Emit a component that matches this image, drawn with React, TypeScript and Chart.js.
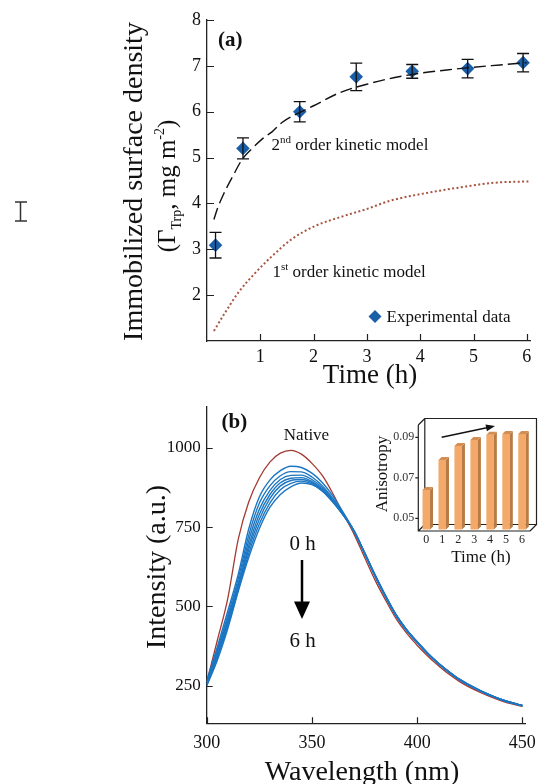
import React, { useEffect, useRef } from 'react';
import { Chart, registerables } from 'chart.js';
Chart.register(...registerables);

const SERIF = '"Liberation Serif", "Times New Roman", serif';
Chart.defaults.font.family = SERIF;
Chart.defaults.color = '#111';

// ---------- Panel (a) data ----------
const expTime = [0.16, 0.675, 1.74, 2.8, 3.85, 4.89, 5.93];
const expDensity = [3.09, 5.2, 6.0, 6.76, 6.88, 6.94, 7.07];
const expError = [0.28, 0.23, 0.22, 0.3, 0.15, 0.2, 0.2];

const secondOrderTime = [0.13, 0.2, 0.31, 0.5, 0.66, 0.85, 1.06, 1.22, 1.4, 1.75, 2.0, 2.5, 3.0, 3.5, 4.0, 4.5, 5.0, 5.5, 6.0];
const secondOrderDensity = [3.65, 3.9, 4.2, 4.63, 4.96, 5.2, 5.43, 5.56, 5.76, 5.99, 6.13, 6.42, 6.6, 6.74, 6.84, 6.91, 6.97, 7.02, 7.07];

const firstOrderTime = [0.13, 0.34, 0.59, 0.91, 1.22, 1.59, 2.03, 2.47, 3.0, 3.44, 4.13, 4.75, 5.38, 6.03];
const firstOrderDensity = [1.22, 1.62, 2.06, 2.49, 2.85, 3.22, 3.51, 3.69, 3.88, 4.06, 4.23, 4.35, 4.45, 4.48];

const timeTicks = [1, 2, 3, 4, 5, 6];
const densityTicks = [2, 3, 4, 5, 6, 7, 8];

// ---------- Panel (b) data ----------
const wavelength = [300, 305, 310, 315, 320, 325, 330, 335, 340, 345, 350, 355, 360, 365, 370, 375, 380, 385, 390, 395, 400, 405, 410, 415, 420, 425, 430, 435, 440, 445, 450];
const nativeIntensity = [262, 392, 525, 712, 830, 905, 955, 983, 992, 980, 951, 912, 855, 790, 728, 655, 583, 520, 462, 416, 378, 344, 314, 287, 264, 245, 229, 215, 203, 193, 185];
const intensity0h = [265, 372, 485, 602, 745, 845, 898, 928, 942, 938, 920, 890, 848, 795, 738, 668, 595, 530, 470, 424, 386, 351, 320, 293, 269, 250, 233, 219, 206, 196, 187];
const intensity1h = [262, 362, 472, 588, 725, 825, 880, 912, 925, 924, 908, 880, 840, 792, 738, 668, 596, 531, 471, 425, 387, 352, 321, 294, 270, 251, 234, 219, 206, 196, 187];
const intensity2h = [260, 356, 462, 575, 708, 806, 865, 900, 913, 914, 900, 874, 836, 790, 737, 668, 597, 532, 472, 425, 387, 352, 321, 294, 270, 251, 234, 220, 207, 196, 187];
const intensity3h = [257, 350, 454, 566, 692, 790, 852, 890, 904, 906, 894, 869, 833, 789, 737, 669, 598, 532, 473, 426, 388, 353, 322, 294, 270, 251, 234, 220, 207, 197, 188];
const intensity4h = [255, 344, 446, 560, 680, 775, 840, 880, 897, 900, 890, 866, 831, 788, 738, 669, 599, 533, 473, 426, 388, 353, 322, 295, 271, 252, 235, 220, 207, 197, 188];
const intensity5h = [252, 337, 438, 553, 667, 760, 826, 868, 888, 895, 886, 863, 828, 787, 738, 670, 600, 534, 474, 427, 389, 353, 322, 295, 271, 252, 235, 220, 207, 197, 188];
const intensity6h = [250, 330, 430, 548, 655, 745, 812, 853, 877, 889, 884, 864, 830, 786, 738, 670, 600, 534, 474, 427, 389, 353, 322, 295, 271, 252, 235, 220, 207, 197, 188];
const blueSeries = [intensity0h, intensity1h, intensity2h, intensity3h, intensity4h, intensity5h, intensity6h];
const wavelengthTicks = [300, 350, 400, 450];
const intensityTicks = [250, 500, 750, 1000];

// ---------- Inset data ----------
const insetHours = ['0', '1', '2', '3', '4', '5', '6'];
const anisotropy = [0.064, 0.0788, 0.0857, 0.0887, 0.0912, 0.0916, 0.0916];
const anisotropyTicks = [0.05, 0.07, 0.09];

const BLUE_PT = '#1b5ea8';
const BLUE_LINE = '#1c76c2';
const NATIVE = '#a43a31';
const DOTTED = '#a85440';

const xy = (xs: number[], ys: number[]) => xs.map((x, i) => ({ x, y: ys[i] }));

type Seg = { t: string; s: number; dy?: number; b?: boolean };
function drawRich(ctx: CanvasRenderingContext2D, segs: Seg[], x: number, y: number, align: 'left' | 'center') {
  ctx.textAlign = 'left';
  ctx.textBaseline = 'alphabetic';
  const widths = segs.map((g) => {
    ctx.font = `${g.b ? 'bold ' : ''}${g.s}px ${SERIF}`;
    return ctx.measureText(g.t).width;
  });
  const total = widths.reduce((a, b) => a + b, 0);
  let cx = align === 'center' ? x - total / 2 : x;
  segs.forEach((g, i) => {
    ctx.font = `${g.b ? 'bold ' : ''}${g.s}px ${SERIF}`;
    ctx.fillText(g.t, cx, y + (g.dy || 0));
    cx += widths[i];
  });
}

function inwardTicks(chart: any, xVals: number[], yVals: number[], len: number) {
  const { ctx, chartArea, scales } = chart;
  ctx.save();
  ctx.strokeStyle = '#222';
  ctx.lineWidth = 1.2;
  ctx.beginPath();
  xVals.forEach((v) => {
    const x = Math.round(scales.x.getPixelForValue(v)) + 0.5;
    ctx.moveTo(x, chartArea.bottom);
    ctx.lineTo(x, chartArea.bottom - len);
  });
  yVals.forEach((v) => {
    const y = Math.round(scales.y.getPixelForValue(v)) + 0.5;
    ctx.moveTo(chartArea.left, y);
    ctx.lineTo(chartArea.left + len, y);
  });
  ctx.stroke();
  ctx.restore();
}

function PanelA() {
  const ref = useRef<HTMLCanvasElement>(null);
  useEffect(() => {
    const plugin = {
      id: 'panelA',
      afterDatasetsDraw(chart: any) {
        const { ctx, scales } = chart;
        ctx.save();
        ctx.strokeStyle = '#111';
        ctx.lineWidth = 1.3;
        ctx.beginPath();
        expTime.forEach((t, i) => {
          const x = scales.x.getPixelForValue(t);
          const y1 = scales.y.getPixelForValue(expDensity[i] + expError[i]);
          const y2 = scales.y.getPixelForValue(expDensity[i] - expError[i]);
          ctx.moveTo(x, y1); ctx.lineTo(x, y2);
          ctx.moveTo(x - 6, y1); ctx.lineTo(x + 6, y1);
          ctx.moveTo(x - 6, y2); ctx.lineTo(x + 6, y2);
        });
        ctx.stroke();
        ctx.restore();
      },
      afterDraw(chart: any) {
        const { ctx } = chart;
        inwardTicks(chart, timeTicks, densityTicks, 7);
        ctx.save();
        ctx.fillStyle = '#111';
        // y title
        ctx.save();
        ctx.translate(141.5, 181.5);
        ctx.rotate(-Math.PI / 2);
        drawRich(ctx, [{ t: 'Immobilized surface density', s: 28 }], 0, 0, 'center');
        ctx.restore();
        ctx.save();
        ctx.translate(175, 186);
        ctx.rotate(-Math.PI / 2);
        drawRich(ctx, [
          { t: '(', s: 25 }, { t: 'Γ', s: 25 }, { t: 'Trp', s: 14, dy: 6 },
          { t: ', mg m', s: 25 }, { t: '-2', s: 14, dy: -11 }, { t: ')', s: 25 },
        ], 0, 0, 'center');
        ctx.restore();
        // x title
        drawRich(ctx, [{ t: 'Time (h)', s: 27 }], 370, 383, 'center');
        // panel label
        drawRich(ctx, [{ t: '(a)', s: 21, b: true }], 218, 46, 'left');
        // annotations
        drawRich(ctx, [{ t: '2', s: 17 }, { t: 'nd', s: 11, dy: -7 }, { t: ' order kinetic model', s: 17 }], 271.5, 150, 'left');
        drawRich(ctx, [{ t: '1', s: 17 }, { t: 'st', s: 11, dy: -7 }, { t: ' order kinetic model', s: 17 }], 272.5, 277, 'left');
        // legend
        ctx.fillStyle = BLUE_PT;
        ctx.beginPath();
        ctx.moveTo(375, 310); ctx.lineTo(381.5, 316.5); ctx.lineTo(375, 323); ctx.lineTo(368.5, 316.5);
        ctx.closePath(); ctx.fill();
        ctx.fillStyle = '#111';
        drawRich(ctx, [{ t: 'Experimental data', s: 17 }], 386.5, 322, 'left');
        // stray error-bar glyph
        ctx.strokeStyle = '#333';
        ctx.lineWidth = 1.5;
        ctx.beginPath();
        ctx.moveTo(20.5, 202); ctx.lineTo(20.5, 221);
        ctx.moveTo(15, 202); ctx.lineTo(27, 202);
        ctx.moveTo(15, 221); ctx.lineTo(27, 221);
        ctx.stroke();
        ctx.restore();
      },
    };
    const chart = new Chart(ref.current!, {
      type: 'scatter',
      data: {
        datasets: [
          {
            data: xy(secondOrderTime, secondOrderDensity), showLine: true, borderColor: '#111', borderWidth: 1.4,
            borderDash: [12, 5], pointRadius: 0, cubicInterpolationMode: 'monotone',
          },
          {
            data: xy(firstOrderTime, firstOrderDensity), showLine: true, borderColor: DOTTED, borderWidth: 2,
            borderDash: [2, 2.4], pointRadius: 0, cubicInterpolationMode: 'monotone',
          },
          {
            data: xy(expTime, expDensity), showLine: false, pointStyle: 'rectRot', pointRadius: 6.8,
            backgroundColor: BLUE_PT, borderColor: BLUE_PT, borderWidth: 0,
          },
        ] as any,
      },
      options: {
        responsive: false,
        animation: false,
        layout: { padding: { left: 0, right: 15, top: 20, bottom: 0 } },
        plugins: { legend: { display: false }, tooltip: { enabled: false } },
        scales: {
          x: {
            type: 'linear', min: 0, max: 6.06,
            afterBuildTicks: (s: any) => { s.ticks = timeTicks.map((v) => ({ value: v })); },
            afterFit: (s: any) => { s.height = 49; },
            grid: { display: false, drawTicks: false },
            border: { display: true, color: '#222', width: 1.3 },
            ticks: { font: { size: 18 }, color: '#111', padding: 5, maxRotation: 0, callback: (v: any) => String(v) },
          },
          y: {
            type: 'linear', min: 1, max: 8,
            afterBuildTicks: (s: any) => { s.ticks = densityTicks.map((v) => ({ value: v })); },
            afterFit: (s: any) => { s.width = 207; },
            grid: { display: false, drawTicks: false },
            border: { display: true, color: '#222', width: 1.3 },
            ticks: { font: { size: 18 }, color: '#111', padding: 6, callback: (v: any) => String(v) },
          },
        },
      } as any,
      plugins: [plugin],
    });
    return () => chart.destroy();
  }, []);
  return <canvas ref={ref} width={545} height={390} style={{ position: 'absolute', left: 0, top: 0, width: 545, height: 390 }} />;
}

function PanelB() {
  const ref = useRef<HTMLCanvasElement>(null);
  useEffect(() => {
    const plugin = {
      id: 'panelB',
      afterDraw(chart: any) {
        const { ctx } = chart;
        inwardTicks(chart, wavelengthTicks, intensityTicks, 6);
        ctx.save();
        ctx.fillStyle = '#111';
        ctx.save();
        ctx.translate(165, 177);
        ctx.rotate(-Math.PI / 2);
        drawRich(ctx, [{ t: 'Intensity (a.u.)', s: 28 }], 0, 0, 'center');
        ctx.restore();
        drawRich(ctx, [{ t: 'Wavelength (nm)', s: 28 }], 362, 390, 'center');
        drawRich(ctx, [{ t: '(b)', s: 21, b: true }], 221.5, 38, 'left');
        drawRich(ctx, [{ t: 'Native', s: 17 }], 306.5, 50, 'center');
        drawRich(ctx, [{ t: '0 h', s: 21 }], 302.5, 160, 'center');
        drawRich(ctx, [{ t: '6 h', s: 21 }], 302.5, 256.5, 'center');
        // arrow
        ctx.strokeStyle = '#000';
        ctx.lineWidth = 2.5;
        ctx.beginPath();
        ctx.moveTo(302, 170); ctx.lineTo(302, 214);
        ctx.stroke();
        ctx.fillStyle = '#000';
        ctx.beginPath();
        ctx.moveTo(294, 211.5); ctx.lineTo(310, 211.5); ctx.lineTo(302, 229);
        ctx.closePath(); ctx.fill();
        ctx.restore();
      },
    };
    const blueSets = blueSeries.map((s) => ({
      data: xy(wavelength, s), showLine: true, borderColor: BLUE_LINE, borderWidth: 1.4,
      pointRadius: 0, cubicInterpolationMode: 'monotone',
    }));
    const chart = new Chart(ref.current!, {
      type: 'scatter',
      data: {
        datasets: [
          ...blueSets,
          {
            data: xy(wavelength, nativeIntensity), showLine: true, borderColor: NATIVE, borderWidth: 1.3,
            pointRadius: 0, cubicInterpolationMode: 'monotone',
          },
        ] as any,
      },
      options: {
        responsive: false,
        animation: false,
        layout: { padding: { left: 0, right: 14, top: 10, bottom: 0 } },
        plugins: { legend: { display: false }, tooltip: { enabled: false } },
        scales: {
          x: {
            type: 'linear', min: 300, max: 451.5,
            afterBuildTicks: (s: any) => { s.ticks = wavelengthTicks.map((v) => ({ value: v })); },
            afterFit: (s: any) => { s.height = 60.7; },
            grid: { display: false, drawTicks: false },
            border: { display: true, color: '#222', width: 1.3 },
            ticks: { font: { size: 18 }, color: '#111', padding: 9, maxRotation: 0, callback: (v: any) => String(v) },
          },
          y: {
            type: 'linear', min: 132, max: 1131,
            afterBuildTicks: (s: any) => { s.ticks = intensityTicks.map((v) => ({ value: v })); },
            afterFit: (s: any) => { s.width = 206.7; },
            grid: { display: false, drawTicks: false },
            border: { display: true, color: '#222', width: 1.3 },
            ticks: { font: { size: 17 }, color: '#111', padding: 6, callback: (v: any) => String(v) },
          },
        },
      } as any,
      plugins: [plugin],
    });
    return () => chart.destroy();
  }, []);
  return <canvas ref={ref} width={545} height={394} style={{ position: 'absolute', left: 0, top: 390, width: 545, height: 394 }} />;
}

const INSET_MIN = 0.04373;
const INSET_MAX = 0.09607;

function Inset() {
  const ref = useRef<HTMLCanvasElement>(null);
  useEffect(() => {
    const DX = 6.5, DY = -6.5;
    const plugin = {
      id: 'inset3d',
      beforeDatasetsDraw(chart: any) {
        const { ctx, chartArea: ca, scales } = chart;
        ctx.save();
        ctx.strokeStyle = '#222';
        ctx.lineWidth = 1.2;
        ctx.beginPath();
        // back panel
        ctx.rect(ca.left + DX, ca.top + DY, ca.right - ca.left, ca.bottom - ca.top);
        // front left axis, floor and connecting edges
        ctx.moveTo(ca.left, ca.top); ctx.lineTo(ca.left, ca.bottom); ctx.lineTo(ca.right, ca.bottom);
        ctx.moveTo(ca.left, ca.top); ctx.lineTo(ca.left + DX, ca.top + DY);
        ctx.moveTo(ca.left, ca.bottom); ctx.lineTo(ca.left + DX, ca.bottom + DY);
        ctx.moveTo(ca.right, ca.bottom); ctx.lineTo(ca.right + DX, ca.bottom + DY);
        anisotropyTicks.forEach((v) => {
          const y = scales.y.getPixelForValue(v);
          ctx.moveTo(ca.left - 3, y); ctx.lineTo(ca.left, y);
        });
        ctx.stroke();
        ctx.restore();
      },
      afterDatasetsDraw(chart: any) {
        const { ctx } = chart;
        const meta = chart.getDatasetMeta(0);
        const d = 3;
        ctx.save();
        meta.data.forEach((bar: any) => {
          const { x, y, base, width } = bar.getProps(['x', 'y', 'base', 'width'], true);
          const l = x - width / 2, r = x + width / 2;
          ctx.fillStyle = '#b97b45';
          ctx.beginPath();
          ctx.moveTo(r, y); ctx.lineTo(r + d, y - d); ctx.lineTo(r + d, base - d); ctx.lineTo(r, base);
          ctx.closePath(); ctx.fill();
          ctx.fillStyle = '#d48e52';
          ctx.beginPath();
          ctx.moveTo(l, y); ctx.lineTo(l + d, y - d); ctx.lineTo(r + d, y - d); ctx.lineTo(r, y);
          ctx.closePath(); ctx.fill();
        });
        // trend arrow
        ctx.strokeStyle = '#111';
        ctx.fillStyle = '#111';
        ctx.lineWidth = 1.4;
        const x1 = 81.7, y1 = 37.3, x2 = 135, y2 = 26;
        const ang = Math.atan2(y2 - y1, x2 - x1);
        ctx.beginPath();
        ctx.moveTo(x1, y1); ctx.lineTo(x2 - 6 * Math.cos(ang), y2 - 6 * Math.sin(ang));
        ctx.stroke();
        ctx.beginPath();
        ctx.moveTo(x2, y2);
        ctx.lineTo(x2 - 9 * Math.cos(ang) + 3.5 * Math.sin(ang), y2 - 9 * Math.sin(ang) - 3.5 * Math.cos(ang));
        ctx.lineTo(x2 - 9 * Math.cos(ang) - 3.5 * Math.sin(ang), y2 - 9 * Math.sin(ang) + 3.5 * Math.cos(ang));
        ctx.closePath(); ctx.fill();
        // titles
        ctx.fillStyle = '#111';
        drawRich(ctx, [{ t: 'Time (h)', s: 17 }], 121, 161.5, 'center');
        ctx.translate(26.7, 74);
        ctx.rotate(-Math.PI / 2);
        drawRich(ctx, [{ t: 'Anisotropy', s: 17 }], 0, 0, 'center');
        ctx.restore();
      },
    };
    const chart = new Chart(ref.current!, {
      type: 'bar',
      data: {
        labels: insetHours,
        datasets: [{
          data: anisotropy, base: INSET_MIN + 0.0008, backgroundColor: '#f2a96a', borderWidth: 0,
          barPercentage: 0.47, categoryPercentage: 1,
        }] as any,
      },
      options: {
        responsive: false,
        animation: false,
        layout: { padding: { left: 0, right: 15, top: 25, bottom: 0 } },
        plugins: { legend: { display: false }, tooltip: { enabled: false } },
        scales: {
          x: {
            afterFit: (s: any) => { s.height = 39; },
            grid: { display: false, drawTicks: false },
            border: { display: false },
            ticks: { font: { size: 12 }, color: '#222', padding: 2, maxRotation: 0 },
          },
          y: {
            type: 'linear', min: INSET_MIN, max: INSET_MAX,
            afterBuildTicks: (s: any) => { s.ticks = anisotropyTicks.map((v) => ({ value: v })); },
            afterFit: (s: any) => { s.width = 58.3; },
            grid: { display: false, drawTicks: false },
            border: { display: false },
            ticks: { font: { size: 12 }, color: '#333', padding: 4, callback: (v: any) => Number(v).toFixed(2) },
          },
        },
      } as any,
      plugins: [plugin],
    });
    return () => chart.destroy();
  }, []);
  return <canvas ref={ref} width={185} height={170} style={{ position: 'absolute', left: 360, top: 400, width: 185, height: 170 }} />;
}

export default function App() {
  return (
    <div style={{ position: 'absolute', left: 0, top: 0, width: 545, height: 784, background: '#fff', overflow: 'hidden' }}>
      <PanelA />
      <PanelB />
      <Inset />
    </div>
  );
}
